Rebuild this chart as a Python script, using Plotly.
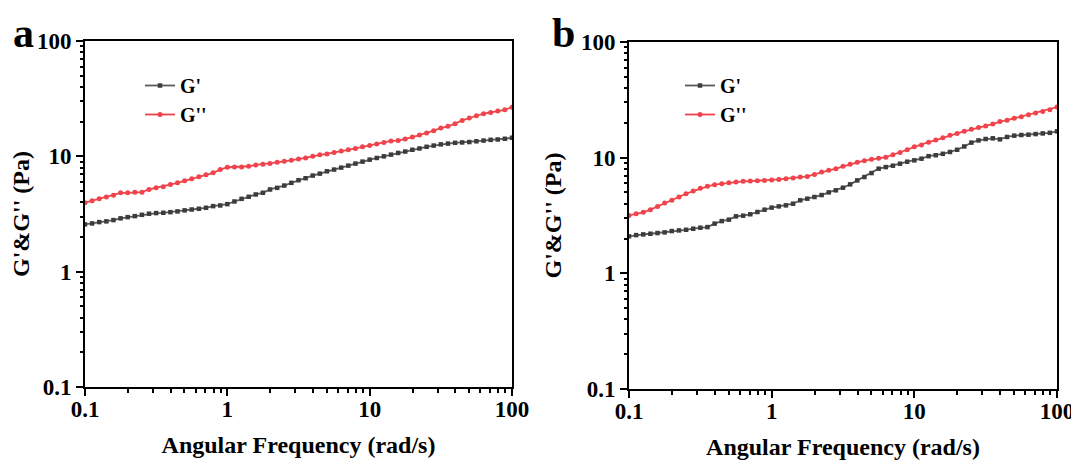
import plotly.graph_objects as go

freq = [0.1, 0.1122, 0.1259, 0.1413, 0.1585, 0.1778, 0.1995, 0.2239, 0.2512, 0.2818,
        0.3162, 0.3548, 0.3981, 0.4467, 0.5012, 0.5623, 0.631, 0.7079, 0.7943, 0.8913,
        1.0, 1.122, 1.259, 1.413, 1.585, 1.778, 1.995, 2.239, 2.512, 2.818,
        3.162, 3.548, 3.981, 4.467, 5.012, 5.623, 6.31, 7.079, 7.943, 8.913,
        10.0, 11.22, 12.59, 14.13, 15.85, 17.78, 19.95, 22.39, 25.12, 28.18,
        31.62, 35.48, 39.81, 44.67, 50.12, 56.23, 63.1, 70.79, 79.43, 89.13, 100.0]

a_g1 = [2.57, 2.62, 2.69, 2.73, 2.80, 2.90, 2.97, 3.03, 3.11, 3.18,
        3.22, 3.24, 3.28, 3.33, 3.40, 3.46, 3.51, 3.58, 3.70, 3.75,
        3.85, 4.06, 4.28, 4.46, 4.67, 4.83, 5.16, 5.33, 5.58, 5.89,
        6.21, 6.46, 6.81, 7.08, 7.42, 7.68, 7.98, 8.31, 8.65, 9.00,
        9.36, 9.68, 10.0, 10.35, 10.7, 11.0, 11.4, 11.7, 12.1, 12.4,
        12.7, 12.9, 13.1, 13.2, 13.3, 13.5, 13.7, 13.9, 14.0, 14.2, 14.5]
a_g2 = [3.96, 4.12, 4.28, 4.43, 4.60, 4.83, 4.83, 4.89, 4.89, 5.16,
        5.33, 5.44, 5.69, 5.89, 6.13, 6.38, 6.64, 6.91, 7.19, 7.68,
        8.04, 8.08, 8.08, 8.20, 8.42, 8.53, 8.65, 8.87, 9.05, 9.23,
        9.49, 9.68, 10.0, 10.3, 10.5, 10.8, 11.1, 11.4, 11.7, 12.1,
        12.4, 12.8, 13.2, 13.6, 13.7, 14.1, 14.7, 15.3, 15.9, 16.7,
        17.6, 18.2, 19.2, 20.5, 21.5, 22.5, 23.4, 24.0, 24.7, 25.3, 26.7]
b_g1 = [2.09, 2.14, 2.17, 2.20, 2.23, 2.26, 2.32, 2.35, 2.38, 2.43,
        2.48, 2.51, 2.69, 2.83, 2.91, 3.11, 3.15, 3.24, 3.39, 3.55,
        3.70, 3.79, 3.87, 4.00, 4.28, 4.42, 4.57, 4.75, 5.01, 5.22,
        5.50, 5.88, 6.36, 6.80, 7.36, 8.03, 8.29, 8.52, 8.87, 9.23,
        9.48, 9.80, 10.3, 10.5, 10.8, 11.2, 11.7, 12.5, 13.5, 14.1,
        14.5, 14.7, 14.4, 15.1, 15.5, 15.7, 15.8, 16.0, 16.2, 16.4, 16.9]
b_g2 = [3.17, 3.28, 3.37, 3.55, 3.79, 4.05, 4.28, 4.57, 4.88, 5.14,
        5.43, 5.65, 5.84, 5.96, 6.08, 6.16, 6.24, 6.28, 6.32, 6.36,
        6.41, 6.49, 6.58, 6.66, 6.80, 6.89, 7.17, 7.51, 7.77, 8.03,
        8.41, 8.75, 9.11, 9.42, 9.67, 9.86, 10.1, 10.6, 11.1, 11.7,
        12.4, 12.9, 13.6, 14.2, 14.9, 15.6, 16.2, 16.9, 17.6, 18.2,
        18.8, 19.5, 20.5, 21.1, 21.9, 22.6, 23.5, 24.3, 25.1, 26.0, 27.4]

series_names = ["G'", "G''"]
panel_labels = ["a", "b"]

FONT = "Liberation Serif"
GREY_LINE = "#5a5a5a"
GREY_MARK = "#3c3c3c"
RED = "#f0434b"

# page body has an 8px default margin, so the figure is placed at (8, 8)
OFF = 8
W, H = 1079 - OFF, 465 - OFF


def px(xp):
    return (xp - OFF) / W


def py(yp):
    return 1 - (yp - OFF) / H


fig = go.Figure()

panels = [
    (a_g1, a_g2, "x", "y", "legend"),
    (b_g1, b_g2, "x2", "y2", "legend2"),
]
for g1, g2, xa, ya, lg in panels:
    fig.add_trace(go.Scatter(
        x=freq, y=g1, name=series_names[0], xaxis=xa, yaxis=ya, legend=lg,
        mode="lines+markers",
        line=dict(color=GREY_LINE, width=1.8),
        marker=dict(symbol="square", size=4.5, color=GREY_MARK),
    ))
    fig.add_trace(go.Scatter(
        x=freq, y=g2, name=series_names[1], xaxis=xa, yaxis=ya, legend=lg,
        mode="lines+markers",
        line=dict(color=RED, width=1.8),
        marker=dict(symbol="circle", size=5, color=RED),
    ))

tickfont = dict(family=FONT, size=23, color="black", weight="bold")
titlefont = dict(family=FONT, size=24, color="black", weight="bold")


def xaxis_cfg(domain, anchor):
    return dict(
        type="log", range=[-1, 2], domain=domain, anchor=anchor, automargin=False,
        dtick=1, showgrid=False, zeroline=False,
        showline=True, linecolor="black", linewidth=2, mirror=True,
        ticks="outside", ticklen=7, tickwidth=2, tickcolor="black",
        minor=dict(ticks="outside", ticklen=3.5, tickwidth=2, tickcolor="black", dtick="D1", showgrid=False),
        tickfont=tickfont, ticklabelstandoff=-7,
        title=dict(text="Angular Frequency (rad/s)", font=titlefont, standoff=16),
    )


def yaxis_cfg(domain, anchor):
    return dict(
        type="log", range=[-1, 2], domain=domain, anchor=anchor, automargin=False,
        dtick=1, showgrid=False, zeroline=False,
        showline=True, linecolor="black", linewidth=2, mirror=True,
        ticks="outside", ticklen=7, tickwidth=2, tickcolor="black",
        minor=dict(ticks="outside", ticklen=3.5, tickwidth=2, tickcolor="black", dtick="D1", showgrid=False),
        tickfont=tickfont,
        title=dict(text="G'&G'' (Pa)", font=titlefont, standoff=13),
    )


xa_dom = [px(85), px(512)]
xb_dom = [px(629), px(1057)]
ya_dom = [py(387), py(41)]
yb_dom = [py(389), py(42)]

legend_font = dict(family=FONT, size=20, color="black", weight="bold")

fig.update_layout(
    width=W, height=H,
    margin=dict(l=0, r=0, t=0, b=0, autoexpand=False),
    paper_bgcolor="white", plot_bgcolor="white",
    xaxis=xaxis_cfg(xa_dom, "y"),
    yaxis=yaxis_cfg(ya_dom, "x"),
    xaxis2=xaxis_cfg(xb_dom, "y2"),
    yaxis2=yaxis_cfg(yb_dom, "x2"),
    legend=dict(x=px(140), y=py(66), xanchor="left", yanchor="top",
                font=legend_font, bgcolor="rgba(0,0,0,0)", tracegroupgap=0),
    legend2=dict(x=px(680), y=py(66), xanchor="left", yanchor="top",
                 font=legend_font, bgcolor="rgba(0,0,0,0)", tracegroupgap=0),
    showlegend=True,
    annotations=[
        dict(text=panel_labels[0], xref="paper", yref="paper", x=px(11), y=1,
             xanchor="left", yanchor="top", showarrow=False,
             font=dict(family=FONT, size=42, color="black", weight="bold")),
        dict(text=panel_labels[1], xref="paper", yref="paper", x=px(550), y=1,
             xanchor="left", yanchor="top", showarrow=False,
             font=dict(family=FONT, size=42, color="black", weight="bold")),
    ],
)

fig.write_html("out.html")
